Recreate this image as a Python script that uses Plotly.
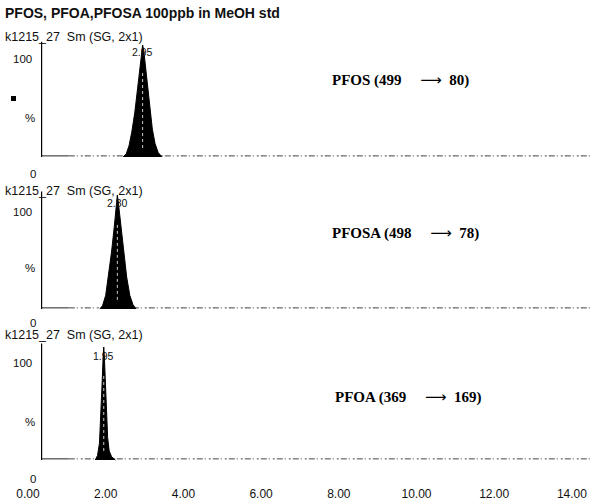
import plotly.graph_objects as go

# ---------------- data ----------------
title_text = "PFOS, PFOA,PFOSA 100ppb in MeOH std"
trace_header = "k1215_27\u00a0\u00a0Sm (SG, 2x1)"
compound_names = ["PFOS (499", "PFOSA (498", "PFOA (369"]
product_ions = ["80)", "78)", "169)"]
peak_rt = [2.95, 2.30, 1.95]
peak_rt_labels = ["2.95", "2.30", "1.95"]

pfos_x = [2.45, 2.53, 2.60, 2.67, 2.75, 2.81, 2.85, 2.89, 2.93, 2.95, 2.98, 3.02, 3.07, 3.13, 3.20, 3.27, 3.35, 3.45]
pfos_y = [0, 3, 10, 22, 40, 58, 72, 85, 97, 100, 95, 82, 65, 45, 25, 12, 4, 0]

pfosa_x = [1.85, 1.92, 2.00, 2.08, 2.15, 2.22, 2.27, 2.30, 2.33, 2.39, 2.46, 2.54, 2.62, 2.70, 2.78]
pfosa_y = [0, 3, 12, 30, 50, 72, 92, 100, 92, 72, 50, 28, 12, 4, 0]

pfoa_x = [1.73, 1.79, 1.84, 1.88, 1.91, 1.935, 1.95, 1.965, 1.99, 2.02, 2.05, 2.09, 2.15, 2.25]
pfoa_y = [0, 4, 15, 40, 70, 92, 100, 92, 70, 42, 20, 8, 3, 0]

# white scan streaks inside the filled peaks (top / bottom of streak, %)
streak_y = [8, 75]

baseline_solid_x = [0.35, 1.05]
baseline_dash_x = [1.05, 14.47]
baseline_level = [1.0, 1.0]

x_tickvals = [0, 2, 4, 6, 8, 10, 12, 14]
x_ticktext = ["0.00", "2.00", "4.00", "6.00", "8.00", "10.00", "12.00", "14.00"]
y_top_label = "100"
y_mid_label = "%"
y_bot_label = "0"

# ---------------- layout helpers ----------------
W, H = 590, 503
def fy(px):
    return 1 - px / H
def fx(px):
    return px / W

panels = [
    dict(base=157, scale=1.12, head=37, top_lbl=59, rt_lbl=52, mid=118, zero=174, comp=80, comp_x=330),
    dict(base=309, scale=1.14, head=191, top_lbl=212, rt_lbl=203, mid=268, zero=323, comp=233, comp_x=330),
    dict(base=460, scale=1.13, head=335, top_lbl=363, rt_lbl=356, mid=422, zero=479, comp=397, comp_x=333),
]
peaks = [(pfos_x, pfos_y), (pfosa_x, pfosa_y), (pfoa_x, pfoa_y)]

x_lo = -28 / 38.85
x_hi = (W - 28) / 38.85
y_lo, y_hi = -6, 108

fig = go.Figure()
annotations = []
shapes = []
sans = "Liberation Sans, Arial, sans-serif"
serif = "Liberation Serif, Times New Roman, serif"
NB = "\u00a0"

for i, p in enumerate(panels):
    yname = "y" if i == 0 else f"y{i+1}"
    ax_key = "yaxis" if i == 0 else f"yaxis{i+1}"
    bottom_px = p["base"] - y_lo * p["scale"]
    top_px = p["base"] - y_hi * p["scale"]
    fig.update_layout(**{ax_key: dict(domain=[fy(bottom_px), fy(top_px)], range=[y_lo, y_hi],
                                      anchor="x", showticklabels=False, ticks="", showgrid=False,
                                      zeroline=False, showline=False, fixedrange=True)})
    px_, py_ = peaks[i]
    fig.add_trace(go.Scatter(x=baseline_solid_x, y=baseline_level, mode="lines", xaxis="x", yaxis=yname,
                             line=dict(color="#222", width=1), hoverinfo="skip", showlegend=False))
    fig.add_trace(go.Scatter(x=baseline_dash_x, y=baseline_level, mode="lines", xaxis="x", yaxis=yname,
                             line=dict(color="#444", width=1, dash="6px,2px,1px,3px,2px,2px"),
                             hoverinfo="skip", showlegend=False))
    fig.add_trace(go.Scatter(x=px_, y=py_, mode="lines", fill="toself", fillcolor="#000",
                             xaxis="x", yaxis=yname, line=dict(color="#000", width=1),
                             hoverinfo="skip", showlegend=False))
    fig.add_trace(go.Scatter(x=[peak_rt[i], peak_rt[i]], y=streak_y, mode="lines", xaxis="x", yaxis=yname,
                             line=dict(color="rgba(255,255,255,0.8)", width=1, dash="3px,3px"),
                             hoverinfo="skip", showlegend=False))
    shapes.append(dict(type="line", xref="x", yref=yname, x0=0.35, x1=0.35, y0=0, y1=103,
                       line=dict(color="#000", width=1.2)))
    comp_text = ("<b>" + compound_names[i] + NB * 5 + "</b>"
                 + "<span style='font-family:DejaVu Sans;font-size:15px'>\u27f6</span>"
                 + "<b>" + NB * 2 + product_ions[i] + "</b>")
    annotations += [
        dict(text=trace_header, x=fx(3), y=fy(p["head"]), xref="paper", yref="paper",
             xanchor="left", yanchor="middle", showarrow=False, font=dict(family=sans, size=12.5, color="#111")),
        dict(text=y_top_label, x=fx(34), y=fy(p["top_lbl"]), xref="paper", yref="paper",
             xanchor="right", yanchor="middle", showarrow=False, font=dict(family=sans, size=11.5, color="#111")),
        dict(text=y_mid_label, x=fx(30), y=fy(p["mid"]), xref="paper", yref="paper",
             xanchor="center", yanchor="middle", showarrow=False, font=dict(family=sans, size=11.5, color="#111")),
        dict(text=y_bot_label, x=fx(33), y=fy(p["zero"]), xref="paper", yref="paper",
             xanchor="center", yanchor="middle", showarrow=False, font=dict(family=sans, size=11.5, color="#111")),
        dict(text=peak_rt_labels[i], x=peak_rt[i], y=fy(p["rt_lbl"]), xref="x", yref="paper",
             xanchor="center", yanchor="middle", showarrow=False, font=dict(family=sans, size=10.5, color="#111")),
        dict(text=comp_text, x=fx(p["comp_x"]), y=fy(p["comp"]), xref="paper", yref="paper",
             xanchor="left", yanchor="middle", showarrow=False, font=dict(family=serif, size=15, color="#000")),
    ]

annotations.append(dict(text="<b>" + title_text + "</b>", x=fx(3), y=fy(13), xref="paper", yref="paper",
                        xanchor="left", yanchor="middle", showarrow=False,
                        font=dict(family=sans, size=14, color="#111")))
shapes.append(dict(type="rect", xref="paper", yref="paper", x0=fx(11), x1=fx(16), y0=fy(101), y1=fy(96),
                   fillcolor="#000", line=dict(width=0)))

fig.update_layout(
    width=W, height=H, margin=dict(l=0, r=0, t=0, b=0),
    paper_bgcolor="white", plot_bgcolor="rgba(0,0,0,0)",
    xaxis=dict(range=[x_lo, x_hi], domain=[0, 1], anchor="free", position=fy(485),
               tickvals=x_tickvals, ticktext=x_ticktext, ticks="", showgrid=False, zeroline=False,
               showline=False, tickfont=dict(family=sans, size=12, color="#111"), fixedrange=True),
    annotations=annotations, shapes=shapes, showlegend=False,
)

fig.write_html("out.html", config={"displayModeBar": False})
